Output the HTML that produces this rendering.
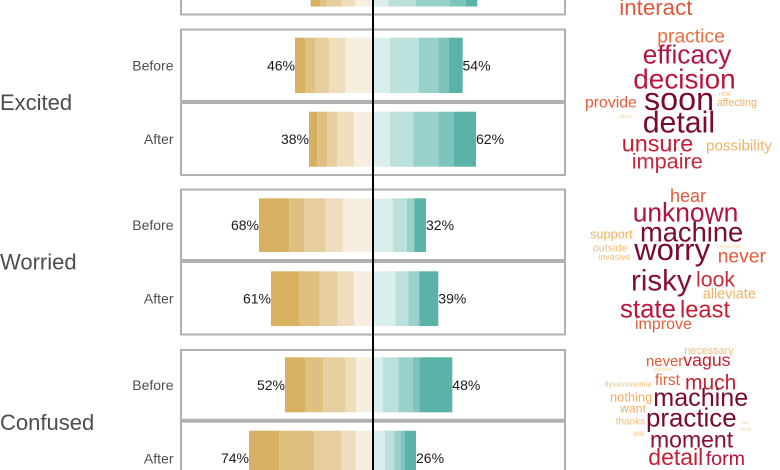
<!DOCTYPE html>
<html><head><meta charset="utf-8"><style>
html,body{margin:0;padding:0;background:#fff;width:780px;height:470px;overflow:hidden;}
svg{display:block;}
text{font-family:"Liberation Sans",Arial,sans-serif;}
.g1{fill:#D8B062}.g2{fill:#E0C080}.g3{fill:#E7CE9E}.g4{fill:#EFDEBD}.g5{fill:#F6EEDF}
.t1{fill:#DAEEEC}.t2{fill:#BCE1DD}.t3{fill:#98D1CA}.t4{fill:#7CC4BC}.t5{fill:#5BB2A8}
.pct{font-size:14px;fill:#1a1a1a}
.row{font-size:14px;fill:#4d4d4d;text-anchor:end}
.grp{font-size:22px;fill:#4d4d4d}
.pan{fill:none;stroke:#b0b0b0;stroke-width:2}
.div{stroke:#b0b0b0;stroke-width:4}
</style></head><body>
<svg width="780" height="470" viewBox="0 0 780 470" xmlns="http://www.w3.org/2000/svg" overflow="hidden">
<rect width="780" height="470" fill="#fff"/>

<!-- panels -->
<path class="pan" d="M181 0 V14.5 H565 V0"/>
<rect class="pan" x="181" y="29.5" width="384" height="145.5"/>
<line class="div" x1="180" y1="102" x2="566" y2="102"/>
<rect class="pan" x="181" y="189.5" width="384" height="145"/>
<line class="div" x1="180" y1="261" x2="566" y2="261"/>
<path class="pan" d="M181 470 V350 H565 V470"/>
<line class="div" x1="180" y1="420.7" x2="566" y2="420.7"/>

<!-- top (cut) bar -->
<g>
<rect class="g1" x="310.7" y="0" width="9.3" height="6.5"/>
<rect class="g2" x="320" y="0" width="6.7" height="6.5"/>
<rect class="g3" x="326.7" y="0" width="15" height="6.5"/>
<rect class="g4" x="341.7" y="0" width="13.3" height="6.5"/>
<rect class="g5" x="355" y="0" width="18" height="6.5"/>
<rect class="t1" x="373" y="0" width="15.3" height="6.5"/>
<rect class="t2" x="388.3" y="0" width="27.7" height="6.5"/>
<rect class="t3" x="416" y="0" width="34" height="6.5"/>
<rect class="t4" x="450" y="0" width="16" height="6.5"/>
<rect class="t5" x="466" y="0" width="11.3" height="6.5"/>
</g>

<!-- Excited Before -->
<g transform="translate(0,37.7)">
<rect class="g1" x="295" y="0" width="10.7" height="55.3"/>
<rect class="g2" x="305.7" y="0" width="9.3" height="55.3"/>
<rect class="g3" x="315" y="0" width="14.3" height="55.3"/>
<rect class="g4" x="329.3" y="0" width="16.4" height="55.3"/>
<rect class="g5" x="345.7" y="0" width="27.3" height="55.3"/>
<rect class="t1" x="373" y="0" width="17" height="55.3"/>
<rect class="t2" x="390" y="0" width="29" height="55.3"/>
<rect class="t3" x="419" y="0" width="19.3" height="55.3"/>
<rect class="t4" x="438.3" y="0" width="10.7" height="55.3"/>
<rect class="t5" x="449" y="0" width="13.7" height="55.3"/>
</g>
<!-- Excited After -->
<g transform="translate(0,111.7)">
<rect class="g1" x="309" y="0" width="8.3" height="55"/>
<rect class="g2" x="317.3" y="0" width="10" height="55"/>
<rect class="g3" x="327.3" y="0" width="10" height="55"/>
<rect class="g4" x="337.3" y="0" width="17" height="55"/>
<rect class="g5" x="354.3" y="0" width="18.7" height="55"/>
<rect class="t1" x="373" y="0" width="17" height="55"/>
<rect class="t2" x="390" y="0" width="23.3" height="55"/>
<rect class="t3" x="413.3" y="0" width="25" height="55"/>
<rect class="t4" x="438.3" y="0" width="15.7" height="55"/>
<rect class="t5" x="454" y="0" width="22" height="55"/>
</g>
<!-- Worried Before -->
<g transform="translate(0,198.3)">
<rect class="g1" x="259" y="0" width="30.3" height="53.7"/>
<rect class="g2" x="289.3" y="0" width="15" height="53.7"/>
<rect class="g3" x="304.3" y="0" width="21.4" height="53.7"/>
<rect class="g4" x="325.7" y="0" width="17.3" height="53.7"/>
<rect class="g5" x="343" y="0" width="30" height="53.7"/>
<rect class="t1" x="373" y="0" width="19.7" height="53.7"/>
<rect class="t2" x="392.7" y="0" width="14" height="53.7"/>
<rect class="t3" x="406.7" y="0" width="7.6" height="53.7"/>
<rect class="t5" x="414.3" y="0" width="11.7" height="53.7"/>
</g>
<!-- Worried After -->
<g transform="translate(0,271.3)">
<rect class="g1" x="271" y="0" width="28" height="54.7"/>
<rect class="g2" x="299" y="0" width="20.7" height="54.7"/>
<rect class="g3" x="319.7" y="0" width="18" height="54.7"/>
<rect class="g4" x="337.7" y="0" width="16.6" height="54.7"/>
<rect class="g5" x="354.3" y="0" width="18.7" height="54.7"/>
<rect class="t1" x="373" y="0" width="22.3" height="54.7"/>
<rect class="t2" x="395.3" y="0" width="13" height="54.7"/>
<rect class="t3" x="408.3" y="0" width="11" height="54.7"/>
<rect class="t5" x="419.3" y="0" width="19" height="54.7"/>
</g>
<!-- Confused Before -->
<g transform="translate(0,357.3)">
<rect class="g1" x="285" y="0" width="20" height="55"/>
<rect class="g2" x="305" y="0" width="18.3" height="55"/>
<rect class="g3" x="323.3" y="0" width="21.7" height="55"/>
<rect class="g4" x="345" y="0" width="11" height="55"/>
<rect class="g5" x="356" y="0" width="17" height="55"/>
<rect class="t1" x="373" y="0" width="9.7" height="55"/>
<rect class="t2" x="382.7" y="0" width="15.6" height="55"/>
<rect class="t3" x="398.3" y="0" width="14.4" height="55"/>
<rect class="t4" x="412.7" y="0" width="6.6" height="55"/>
<rect class="t5" x="419.3" y="0" width="33" height="55"/>
</g>
<!-- Confused After -->
<g transform="translate(0,430.7)">
<rect class="g1" x="249" y="0" width="30.3" height="39.3"/>
<rect class="g2" x="279.3" y="0" width="35" height="39.3"/>
<rect class="g3" x="314.3" y="0" width="26.7" height="39.3"/>
<rect class="g4" x="341" y="0" width="14.7" height="39.3"/>
<rect class="g5" x="355.7" y="0" width="17.3" height="39.3"/>
<rect class="t1" x="373" y="0" width="12" height="39.3"/>
<rect class="t2" x="385" y="0" width="9.3" height="39.3"/>
<rect class="t3" x="394.3" y="0" width="6.7" height="39.3"/>
<rect class="t4" x="401" y="0" width="4" height="39.3"/>
<rect class="t5" x="405" y="0" width="11" height="39.3"/>
</g>

<!-- center line -->
<rect x="372" y="0" width="2" height="470" fill="#000"/>

<!-- percent labels -->
<text class="pct" x="295" y="70.5" text-anchor="end">46%</text>
<text class="pct" x="462.5" y="70.5">54%</text>
<text class="pct" x="309" y="144.2" text-anchor="end">38%</text>
<text class="pct" x="476" y="144.2">62%</text>
<text class="pct" x="259" y="230.2" text-anchor="end">68%</text>
<text class="pct" x="426" y="230.2">32%</text>
<text class="pct" x="271" y="303.7" text-anchor="end">61%</text>
<text class="pct" x="438.3" y="303.7">39%</text>
<text class="pct" x="285" y="389.8" text-anchor="end">52%</text>
<text class="pct" x="452.3" y="389.8">48%</text>
<text class="pct" x="249" y="463.2" text-anchor="end">74%</text>
<text class="pct" x="416" y="463.2">26%</text>

<!-- row labels -->
<text class="row" x="173.5" y="70.5">Before</text>
<text class="row" x="173.5" y="144">After</text>
<text class="row" x="173.5" y="230">Before</text>
<text class="row" x="173.5" y="303.5">After</text>
<text class="row" x="173.5" y="390">Before</text>
<text class="row" x="173.5" y="463.3">After</text>

<!-- group labels -->
<text class="grp" x="0" y="110">Excited</text>
<text class="grp" x="0" y="269.3">Worried</text>
<text class="grp" x="0" y="430">Confused</text>

<!-- word cloud: Excited -->
<text x="619.3" y="15" font-size="22.3" fill="#E0563A">interact</text>
<text x="657.3" y="42.7" font-size="19.3" fill="#E8703F">practice</text>
<text x="642.7" y="63.3" font-size="26.3" fill="#B01540">efficacy</text>
<text x="633.3" y="88.3" font-size="27.9" fill="#B8163C">decision</text>
<text x="644" y="110" font-size="32.3" fill="#7A0A30">soon</text>
<text x="585" y="107.3" font-size="15.8" fill="#E35D3B">provide</text>
<text x="719" y="96" font-size="7" fill="#F2C890">real</text>
<text x="716.7" y="106" font-size="10.7" fill="#F0B060">affecting</text>
<text x="619" y="118" font-size="5" fill="#F4D6A0">about</text>
<text x="642.7" y="132.7" font-size="30.3" fill="#7A0A30">detail</text>
<text x="621.7" y="151.7" font-size="23.4" fill="#C42033">unsure</text>
<text x="706" y="150.7" font-size="15.2" fill="#F0B060">possibility</text>
<text x="631.7" y="168.3" font-size="21.7" fill="#C8283A">impaire</text>

<!-- word cloud: Worried -->
<text x="670" y="202" font-size="18" fill="#E05A3A">hear</text>
<text x="632.7" y="221.7" font-size="26.4" fill="#B0153F">unknown</text>
<text x="640" y="241.7" font-size="27.3" fill="#7A0A30">machine</text>
<text x="590" y="238.3" font-size="12.8" fill="#F0B060">support</text>
<text x="592.7" y="251.7" font-size="10.8" fill="#F2C080">outside</text>
<text x="598.3" y="260" font-size="9" fill="#F2C080">invasive</text>
<text x="634.3" y="260" font-size="31" fill="#7A0A30">worry</text>
<text x="716.7" y="248" font-size="5.5" fill="#F4D6A0">behaviour</text>
<text x="717.7" y="262.7" font-size="19.3" fill="#E05A3A">never</text>
<text x="631" y="290.7" font-size="29.5" fill="#8A0D35">risky</text>
<text x="696" y="286.7" font-size="21.3" fill="#C92C3A">look</text>
<text x="702.7" y="298.3" font-size="14.5" fill="#F0B060">alleviate</text>
<text x="620" y="317.3" font-size="25.8" fill="#B8163C">state</text>
<text x="680" y="317.3" font-size="23.7" fill="#C42033">least</text>
<text x="635" y="329" font-size="16" fill="#E0603C">improve</text>

<!-- word cloud: Confused -->
<text x="684.3" y="354" font-size="10.8" fill="#F2C080">necessary</text>
<text x="646" y="366" font-size="14.9" fill="#E05A3A">never</text>
<text x="683.3" y="366" font-size="17.7" fill="#C42033">vagus</text>
<text x="653" y="371" font-size="5" fill="#F4D6A0">activities</text>
<text x="655" y="385" font-size="15.5" fill="#E0603C">first</text>
<text x="685" y="389.3" font-size="21" fill="#C42033">much</text>
<text x="604.3" y="386.7" font-size="7.6" fill="#F2C080">dysautonomia</text>
<text x="610" y="401.7" font-size="12.9" fill="#F0B060">nothing</text>
<text x="653.3" y="406" font-size="25.1" fill="#7A0A30">machine</text>
<text x="620" y="412.7" font-size="12.3" fill="#F0B060">want</text>
<text x="615.7" y="424.3" font-size="10" fill="#F2C080">thanks</text>
<text x="633.3" y="436" font-size="8.5" fill="#F2C890">via</text>
<text x="646" y="426.7" font-size="25.9" fill="#7A0A30">practice</text>
<text x="741" y="424" font-size="5" fill="#F4D6A0">use</text>
<text x="741" y="431" font-size="5" fill="#F4D6A0">took</text>
<text x="650" y="447.3" font-size="23" fill="#8A0D35">moment</text>
<text x="648.3" y="465" font-size="23" fill="#C42033">detail</text>
<text x="705.7" y="465" font-size="19.7" fill="#B8163C">form</text>
</svg>
</body></html>
